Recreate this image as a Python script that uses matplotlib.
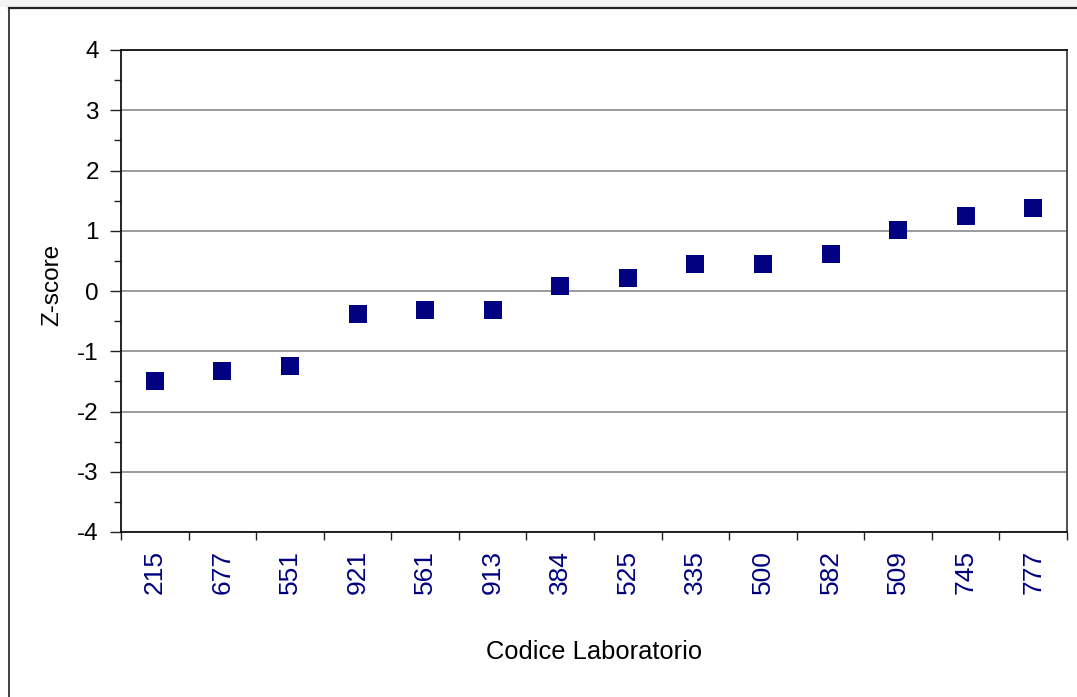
import numpy as np
import matplotlib
matplotlib.use("Agg")
import matplotlib.pyplot as plt
from matplotlib.lines import Line2D
from matplotlib.patches import Rectangle

labs = ["215", "677", "551", "921", "561", "913", "384", "525", "335", "500", "582", "509", "745", "777"]
zscores = [-1.49, -1.32, -1.25, -0.39, -0.32, -0.32, 0.08, 0.21, 0.44, 0.45, 0.61, 1.01, 1.24, 1.37]
y_ticks = [-4, -3, -2, -1, 0, 1, 2, 3, 4]

plt.rcParams['font.family'] = ['Liberation Sans', 'DejaVu Sans']

W, H = 1077, 697
fig = plt.figure(figsize=(W / 100, H / 100), dpi=100)
fig.patch.set_facecolor("white")

# top grey strip and outer frame
fig.patches.append(Rectangle((0, 1 - 7 / H), 1, 7 / H, transform=fig.transFigure,
                             facecolor="#f2f2f2", edgecolor="none", zorder=0))
fig.lines.append(Line2D([9 / W, 9 / W], [0, 1 - 8 / H], transform=fig.transFigure,
                        color="#222222", lw=1.2))
fig.lines.append(Line2D([9 / W, 1], [1 - 8 / H, 1 - 8 / H], transform=fig.transFigure,
                        color="#222222", lw=1.6))

left, right, top, bottom = 121, 1067, 50, 532
ax = fig.add_axes([left / W, 1 - bottom / H, (right - left) / W, (bottom - top) / H])

x = np.arange(1, len(labs) + 1)
ax.plot(x, zscores, linestyle="none", marker="s", markersize=13,
        color="#000080", markeredgewidth=0, zorder=3)

ax.set_xlim(0.5, len(labs) + 0.5)
ax.set_ylim(-4, 4)
ax.set_yticks(y_ticks)
ax.set_yticklabels([str(v) for v in y_ticks])
ax.set_yticks(np.arange(-3.5, 4, 1.0), minor=True)
ax.grid(axis="y", which="major", color="#808080", lw=1.1, zorder=1)

ax.set_xticks(x)
ax.set_xticklabels(labs, rotation=90, color="#000080", fontsize=19)
ax.set_xticks(np.arange(0.5, len(labs) + 1, 1.0), minor=True)
ax.tick_params(axis="x", which="major", length=0, pad=13)
ax.tick_params(axis="x", which="minor", length=6, width=1, direction="out", color="#222222")
ax.tick_params(axis="y", which="major", length=8, width=1, direction="out", labelsize=17.5, pad=8, color="#222222")
ax.tick_params(axis="y", which="minor", length=5, width=1, direction="out", color="#222222")

for s in ["left", "bottom", "top"]:
    ax.spines[s].set_color("#111111")
    ax.spines[s].set_linewidth(1.3)
ax.spines["right"].set_color("#404040")
ax.spines["right"].set_linewidth(1.3)

ax.set_ylabel("Z-score", fontsize=17.5)
ax.yaxis.set_label_coords((52 - left) / (right - left), (bottom - 285) / (bottom - top))
ax.set_xlabel("Codice Laboratorio", fontsize=18.4)
ax.xaxis.set_label_coords(0.5, (bottom - 652) / (bottom - top))
ax.xaxis.label.set_va("center")
ax.yaxis.label.set_va("center")

fig.savefig("out.png", dpi=100)
